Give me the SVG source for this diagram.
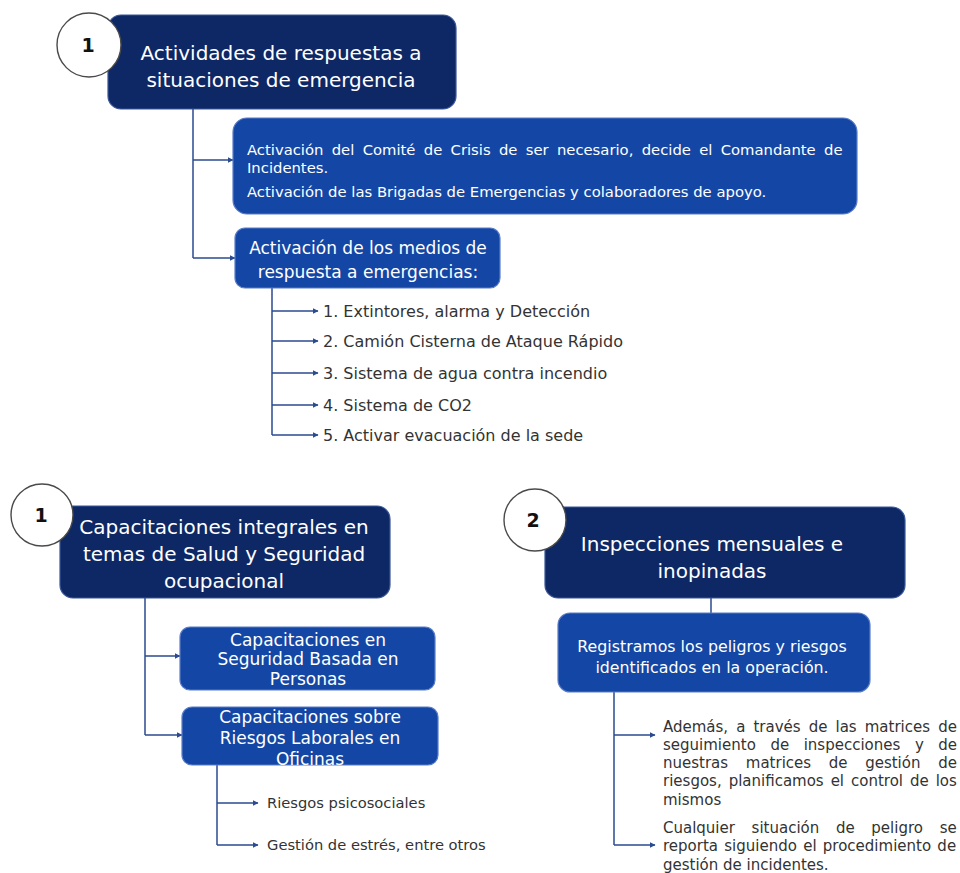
<svg xmlns="http://www.w3.org/2000/svg" width="960" height="873" viewBox="0 0 960 873">
  <defs>
    <marker id="arr" viewBox="0 0 6 6" refX="5.5" refY="3" markerWidth="6" markerHeight="6" markerUnits="userSpaceOnUse" orient="auto">
      <path d="M0,0 L6,3 L0,6 Z" fill="#2b4a90"/>
    </marker>
    <style>
      .dark { fill: #0e2866; stroke: #3b5697; stroke-width: 1.2; }
      .blue { fill: #1447a5; stroke: #5a7cc6; stroke-width: 1.2; }
      .badge { fill: #ffffff; stroke: #4a4a4a; stroke-width: 1.4; }
      .num { font-family: "DejaVu Sans", "Liberation Sans", sans-serif; font-weight: bold; font-size: 19px; fill: #111; text-anchor: middle; }
      .head { font-family: "DejaVu Sans", "Liberation Sans", sans-serif; font-size: 20px; fill: #ffffff; text-anchor: middle; }
      .sub { font-family: "DejaVu Sans", "Liberation Sans", sans-serif; font-size: 17px; fill: #ffffff; text-anchor: middle; }
      .para { font-family: "DejaVu Sans", "Liberation Sans", sans-serif; font-size: 14.8px; fill: #ffffff; }
      .item { font-family: "DejaVu Sans", "Liberation Sans", sans-serif; font-size: 16px; fill: #333333; }
      .itemS { font-family: "DejaVu Sans", "Liberation Sans", sans-serif; font-size: 14.7px; fill: #333333; }
      .just { font-family: "DejaVu Sans", "Liberation Sans", sans-serif; font-size: 15px; fill: #333333; }
      .wire { fill: none; stroke: #2b4a90; stroke-width: 1.5; }
      .tip { fill: none; stroke: #2b4a90; stroke-width: 1.5; marker-end: url(#arr); }
    </style>
  </defs>

  <rect width="960" height="873" fill="#ffffff"/>

  <!-- connectors -->
  <g id="connectors">
    <!-- emergency response branch -->
    <path class="wire" d="M193,109 V258"/>
    <path class="tip" d="M193,160 H233"/>
    <path class="tip" d="M193,258 H235"/>
    <path class="wire" d="M272,288 V435"/>
    <path class="tip" d="M272,311 H318"/>
    <path class="tip" d="M272,341 H318"/>
    <path class="tip" d="M272,373 H318"/>
    <path class="tip" d="M272,405 H318"/>
    <path class="tip" d="M272,435 H318"/>
    <!-- training branch -->
    <path class="wire" d="M145,598 V735"/>
    <path class="tip" d="M145,656 H180"/>
    <path class="tip" d="M145,735 H182"/>
    <path class="wire" d="M217,765 V845"/>
    <path class="tip" d="M217,803 H258"/>
    <path class="tip" d="M217,845 H258"/>
    <!-- inspections branch -->
    <path class="wire" d="M711,598 V613"/>
    <path class="wire" d="M614,692 V845"/>
    <path class="tip" d="M614,735 H655"/>
    <path class="tip" d="M614,845 H655"/>
  </g>

  <!-- section 1: emergency response -->
  <g id="emergencias">
    <rect class="dark" x="108" y="15" width="348" height="94" rx="13"/>
    <text class="head" x="281" y="60">Actividades de respuestas a</text>
    <text class="head" x="281" y="87">situaciones de emergencia</text>
    <circle class="badge" cx="89" cy="45" r="32"/>
    <text class="num" x="88" y="52">1</text>
  </g>

  <g id="comite">
    <rect class="blue" x="233" y="118" width="624" height="96" rx="14"/>
    <text class="para" x="247" y="155" word-spacing="3.6">Activación del Comité de Crisis de ser necesario, decide el Comandante de</text>
    <text class="para" x="247" y="173">Incidentes.</text>
    <text class="para" x="247" y="197">Activación de las Brigadas de Emergencias y colaboradores de apoyo.</text>
  </g>

  <g id="medios">
    <rect class="blue" x="235" y="228" width="265" height="60" rx="10"/>
    <text class="sub" x="368" y="254">Activación de los medios de</text>
    <text class="sub" x="368" y="278">respuesta a emergencias:</text>
  </g>

  <g id="medios-lista">
    <text class="item" x="323" y="317">1. Extintores, alarma y Detección</text>
    <text class="item" x="323" y="347">2. Camión Cisterna de Ataque Rápido</text>
    <text class="item" x="323" y="379">3. Sistema de agua contra incendio</text>
    <text class="item" x="323" y="411">4. Sistema de CO2</text>
    <text class="item" x="323" y="441">5. Activar evacuación de la sede</text>
  </g>

  <!-- section 2: training -->
  <g id="capacitaciones">
    <rect class="dark" x="60" y="506" width="330" height="92" rx="13"/>
    <text class="head" x="224" y="534">Capacitaciones integrales en</text>
    <text class="head" x="224" y="561">temas de Salud y Seguridad</text>
    <text class="head" x="224" y="588">ocupacional</text>
    <circle class="badge" cx="42" cy="515" r="31"/>
    <text class="num" x="41" y="522">1</text>
  </g>

  <g id="cap-personas">
    <rect class="blue" x="180" y="627" width="255" height="63" rx="10"/>
    <text class="sub" x="308" y="646">Capacitaciones en</text>
    <text class="sub" x="308" y="665">Seguridad Basada en</text>
    <text class="sub" x="308" y="685">Personas</text>
  </g>

  <g id="cap-oficinas">
    <rect class="blue" x="182" y="707" width="256" height="58" rx="10"/>
    <text class="sub" x="310" y="723">Capacitaciones sobre</text>
    <text class="sub" x="310" y="744">Riesgos Laborales en</text>
    <text class="sub" x="310" y="765">Oficinas</text>
  </g>

  <g id="cap-lista">
    <text class="itemS" x="267" y="808">Riesgos psicosociales</text>
    <text class="itemS" x="267" y="850">Gestión de estrés, entre otros</text>
  </g>

  <!-- section 3: inspections -->
  <g id="inspecciones">
    <rect class="dark" x="545" y="507" width="360" height="91" rx="13"/>
    <text class="head" x="712" y="551">Inspecciones mensuales e</text>
    <text class="head" x="712" y="578">inopinadas</text>
    <circle class="badge" cx="535" cy="520" r="31"/>
    <text class="num" x="533" y="527">2</text>
  </g>

  <g id="registro">
    <rect class="blue" x="558" y="613" width="312" height="79" rx="12"/>
    <text class="sub" x="712" y="652" style="font-size:15.8px">Registramos los peligros y riesgos</text>
    <text class="sub" x="712" y="673" style="font-size:15.8px">identificados en la operación.</text>
  </g>

  <g id="matrices">
    <text class="just" x="663" y="732" word-spacing="3.3">Además, a través de las matrices de</text>
    <text class="just" x="663" y="750" word-spacing="9.8">seguimiento de inspecciones y de</text>
    <text class="just" x="663" y="768" word-spacing="12.9">nuestras matrices de gestión de</text>
    <text class="just" x="663" y="786" word-spacing="2.2">riesgos, planificamos el control de los</text>
    <text class="just" x="663" y="805">mismos</text>
  </g>

  <g id="reporte">
    <text class="just" x="663" y="833" word-spacing="11.9">Cualquier situación de peligro se</text>
    <text class="just" x="663" y="851" word-spacing="1.5">reporta siguiendo el procedimiento de</text>
    <text class="just" x="663" y="870">gestión de incidentes.</text>
  </g>
</svg>
